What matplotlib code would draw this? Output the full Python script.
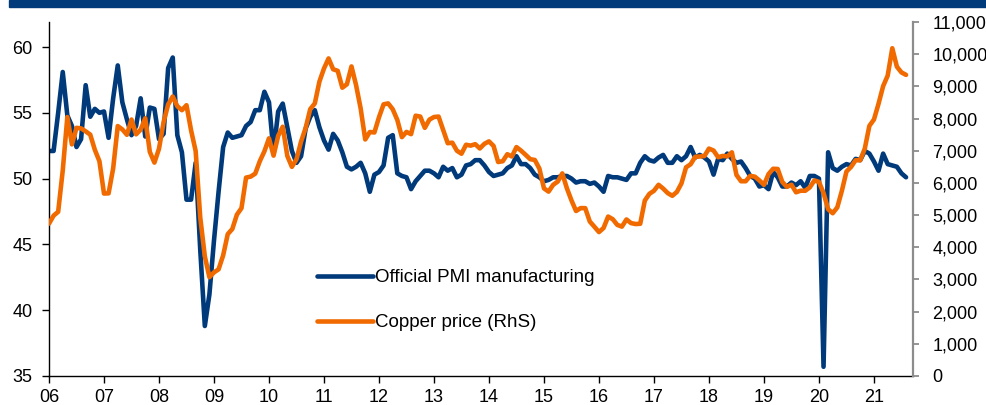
# IMPORT LIBRARIES
import numpy as np
import matplotlib
matplotlib.use('Agg')
import matplotlib.pyplot as plt
from matplotlib.patches import Rectangle

plt.rcParams['font.family'] = ['Liberation Sans', 'DejaVu Sans']

# DATA - monthly, Jan 2006 to Aug 2021
start_year = 2006
pmi = [
    52.1, 52.1, 55.0, 58.1, 54.8, 54.0, 52.4, 53.0, 57.1, 54.7, 55.3, 55.0,  # 2006
    55.1, 53.1, 56.1, 58.6, 55.8, 54.5, 53.3, 54.0, 56.1, 53.2, 55.4, 55.3,  # 2007
    53.0, 53.4, 58.4, 59.2, 53.3, 52.0, 48.4, 48.4, 51.2, 44.6, 38.8, 41.2,  # 2008
    45.3, 49.0, 52.4, 53.5, 53.1, 53.2, 53.3, 54.0, 54.3, 55.2, 55.2, 56.6,  # 2009
    55.8, 52.0, 55.1, 55.7, 53.9, 52.1, 51.2, 51.7, 53.8, 54.7, 55.2, 53.9,  # 2010
    52.9, 52.2, 53.4, 52.9, 52.0, 50.9, 50.7, 50.9, 51.2, 50.4, 49.0, 50.3,  # 2011
    50.5, 51.0, 53.1, 53.3, 50.4, 50.2, 50.1, 49.2, 49.8, 50.2, 50.6, 50.6,  # 2012
    50.4, 50.1, 50.9, 50.6, 50.8, 50.1, 50.3, 51.0, 51.1, 51.4, 51.4, 51.0,  # 2013
    50.5, 50.2, 50.3, 50.4, 50.8, 51.0, 51.7, 51.1, 51.1, 50.8, 50.3, 50.1,  # 2014
    49.8, 49.9, 50.1, 50.1, 50.2, 50.2, 50.0, 49.7, 49.8, 49.8, 49.6, 49.7,  # 2015
    49.4, 49.0, 50.2, 50.1, 50.1, 50.0, 49.9, 50.4, 50.4, 51.2, 51.7, 51.4,  # 2016
    51.3, 51.6, 51.8, 51.2, 51.2, 51.7, 51.4, 51.7, 52.4, 51.6, 51.8, 51.6,  # 2017
    51.3, 50.3, 51.5, 51.4, 51.9, 51.5, 51.2, 51.3, 50.8, 50.2, 50.0, 49.4,  # 2018
    49.5, 49.2, 50.5, 50.1, 49.4, 49.4, 49.7, 49.5, 49.8, 49.3, 50.2, 50.2,  # 2019
    50.0, 35.7, 52.0, 50.8, 50.6, 50.9, 51.1, 51.0, 51.5, 51.4, 52.1, 51.9,  # 2020
    51.3, 50.6, 51.9, 51.1, 51.0, 50.9, 50.4, 50.1,                          # 2021
]
copper = [
    4734, 4982, 5103, 6388, 8046, 7198, 7711, 7695, 7602, 7500, 7029, 6676,
    5670, 5676, 6452, 7766, 7662, 7496, 7970, 7510, 7654, 8008, 6963, 6631,
    7061, 7888, 8439, 8685, 8383, 8260, 8414, 7634, 6991, 4926, 3717, 3072,
    3220, 3315, 3749, 4407, 4569, 5014, 5216, 6165, 6196, 6288, 6676, 6982,
    7386, 6848, 7463, 7745, 6838, 6499, 6735, 7284, 7709, 8292, 8470, 9147,
    9556, 9868, 9531, 9483, 8959, 9066, 9619, 9040, 8315, 7350, 7581, 7568,
    8040, 8441, 8471, 8289, 7956, 7423, 7584, 7515, 8088, 8062, 7711, 7966,
    8047, 8061, 7646, 7234, 7250, 7000, 6907, 7186, 7159, 7203, 7071, 7215,
    7291, 7149, 6650, 6674, 6891, 6821, 7113, 7002, 6872, 6737, 6713, 6446,
    5831, 5729, 5940, 6042, 6295, 5833, 5457, 5127, 5217, 5216, 4800, 4639,
    4472, 4599, 4954, 4873, 4695, 4642, 4864, 4751, 4722, 4731, 5450, 5660,
    5755, 5941, 5825, 5684, 5599, 5720, 5985, 6484, 6580, 6812, 6821, 6834,
    7066, 7006, 6797, 6838, 6824, 6950, 6248, 6052, 6052, 6219, 6194, 6077,
    5939, 6274, 6439, 6433, 6029, 5877, 5943, 5709, 5758, 5756, 5861, 6077,
    6031, 5687, 5183, 5058, 5239, 5755, 6354, 6497, 6705, 6703, 7064, 7772,
    7970, 8460, 9005, 9336, 10184, 9612, 9433, 9357,
]
year_ticks = list(range(2006, 2022))
year_labels = ['%02d' % (y % 100) for y in year_ticks]
left_ticks = [35, 40, 45, 50, 55, 60]
right_ticks = list(range(0, 11001, 1000))
right_labels = ['{:,}'.format(v) for v in right_ticks]

navy = '#003a7a'
orange = '#f06a00'

# SET UP THE FIGURE
fig = plt.figure(figsize=(9.87, 4.05), dpi=100)
fig.patches.append(Rectangle((9 / 987, 1 - 7 / 405), 978 / 987, 7 / 405,
                             transform=fig.transFigure, color=navy, zorder=0))
ax = fig.add_axes([49 / 987, 1 - 376 / 405, 864 / 987, 354 / 405])
ax2 = ax.twinx()

x = start_year + np.arange(len(pmi)) / 12.0

l1, = ax.plot(x, pmi, color=navy, lw=3.3, solid_capstyle='round',
              solid_joinstyle='round', label='Official PMI manufacturing')
l2, = ax2.plot(x, copper, color=orange, lw=3.3, solid_capstyle='round',
               solid_joinstyle='round', label='Copper price (RhS)')

# AXES
ax.set_xlim(2006, 2021.71)
ax.set_ylim(35, 61.9)
ax2.set_ylim(0, 11000)
ax.set_xticks(year_ticks)
ax.set_xticklabels(year_labels)
ax.set_yticks(left_ticks)
ax2.set_yticks(right_ticks)
ax2.set_yticklabels(right_labels)

for s in ['top', 'right']:
    ax.spines[s].set_visible(False)
for s in ['top', 'left', 'bottom']:
    ax2.spines[s].set_visible(False)
ax.spines['left'].set_linewidth(1.0)
ax.spines['bottom'].set_linewidth(1.0)
ax2.spines['right'].set_color('#8c8c8c')
ax2.spines['right'].set_linewidth(1.6)

ax.tick_params(axis='x', direction='out', length=5, width=1, pad=4,
               labelsize=13, colors='black')
ax.tick_params(axis='y', direction='out', length=5, width=1, pad=7,
               labelsize=13)
ax2.tick_params(axis='y', direction='out', length=4, width=1.3, pad=10,
                labelsize=13, color='#8c8c8c', labelcolor='black')

# LEGEND
leg = ax2.legend([l1, l2], [l1.get_label(), l2.get_label()],
                 loc='center left', bbox_to_anchor=(0.291, 0.214),
                 frameon=False, fontsize=13.5, handlelength=2.95,
                 handletextpad=0.12, labelspacing=1.5)

fig.savefig('out.png', dpi=100)
